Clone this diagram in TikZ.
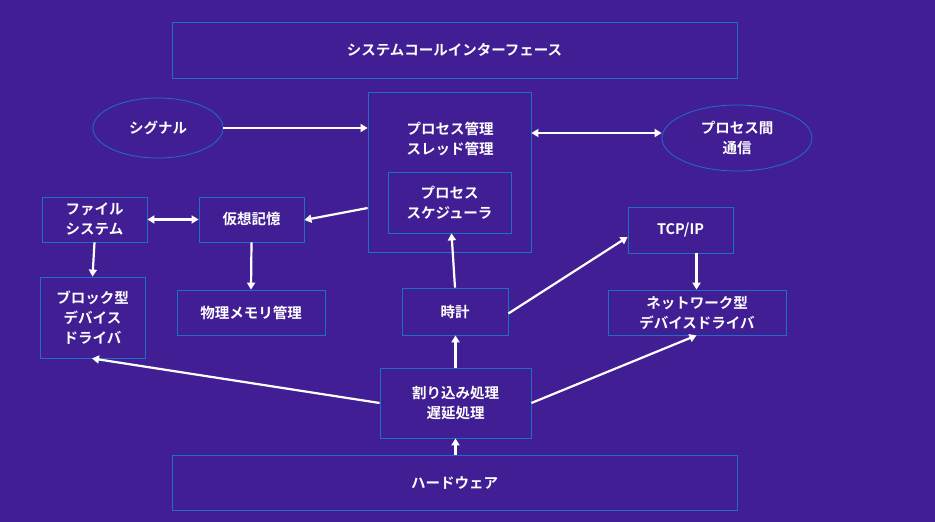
\documentclass[tikz,border=0pt]{standalone}
\usepackage{fontspec}
\setmainfont{Noto Sans CJK JP}[BoldFont={* Bold}]
\usetikzlibrary{shapes.geometric,arrows.meta}
\definecolor{bg}{HTML}{421E94}
\definecolor{bd}{HTML}{1C6FC8}
\begin{document}
\begin{tikzpicture}[x=1pt,y=-1pt,
  box/.style={draw=bd,line width=0.8pt,text=white,font=\bfseries\fontsize{14.5}{20}\selectfont,align=center,inner sep=0pt},
  ell/.style={box,ellipse},
  ar/.style={draw=white,line width=2.2pt,-{Triangle[length=7pt,width=8pt]}},
  dar/.style={draw=white,line width=2.2pt,{Triangle[length=7pt,width=8pt]}-{Triangle[length=7pt,width=8pt]}}]
\fill[bg] (0,0) rectangle (935,522);
\useasboundingbox (0,0) rectangle (935,522);
\newcommand\bx[6]{\node[box,minimum width=#4-#2,minimum height=#5-#3] (#1) at ({(#2+#4)/2},{(#3+#5)/2}) {#6};}
\bx{sys}{172}{22}{737}{78}{システムコールインターフェース}
\node[box,minimum width=163,minimum height=160] (proc) at (449.5,172) {};
\node[text=white,font=\bfseries\fontsize{14.5}{20}\selectfont,align=center] (proct) at (450,139) {プロセス管理\\スレッド管理};
\bx{sch}{388}{172}{511}{233}{プロセス\\スケジューラ}
\node[ell,minimum width=130,minimum height=60] (sig) at (158,128) {シグナル};
\node[ell,minimum width=150,minimum height=66] (ipc) at (737,138) {プロセス間\\通信};
\bx{fs}{42}{197}{147}{242}{ファイル\\システム}
\bx{vm}{199}{197}{304}{242}{仮想記憶}
\bx{blk}{40}{277}{145}{358}{ブロック型\\デバイス\\ドライバ}
\bx{pm}{177}{290}{325}{335}{物理メモリ管理}
\bx{clk}{402}{288}{508}{335}{時計}
\bx{tcp}{628}{207}{733}{253}{TCP/IP}
\bx{net}{608}{290}{786}{335}{ネットワーク型\\デバイスドライバ}
\bx{intr}{380}{368}{531}{438}{割り込み処理\\遅延処理}
\bx{hw}{172}{455}{737}{510}{ハードウェア}
\coordinate (p1) at (proc.west |- 0,128);
\coordinate (i1) at (ipc.west |- 0,133);
\coordinate (p2) at (proc.east |- 0,133);
\coordinate (p3) at (proc.west |- 0,208);
\coordinate (v1) at (vm.east |- 0,220);
\draw[ar] (sig.east |- 0,128) -- (p1);
\draw[dar] (p2) -- (i1);
\draw[ar] (p3) -- (v1);
\draw[dar] (fs.east) -- (vm.west);
\draw[ar] (fs.south) -- (blk.north);
\draw[ar] (vm.south) -- (pm.north);
\draw[ar] (clk.north) -- ([xshift=2]sch.south);
\draw[ar] ([yshift=-2]clk.east) -- ([yshift=-7]tcp.west);
\draw[ar] ([xshift=16]tcp.south) -- ([xshift=16]tcp.south |- net.north);
\draw[ar] (intr.north) -- (clk.south -| intr.north);
\draw[ar] (intr.west) -- (blk.south east -| 92,358);
\draw[ar] (intr.east) -- ([xshift=16]tcp.south |- net.south);
\draw[ar] (hw.north -| intr.south) -- (intr.south);
\end{tikzpicture}
\end{document}
